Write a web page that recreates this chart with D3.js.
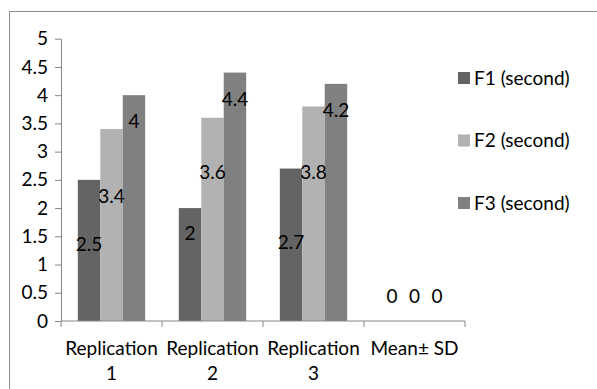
<!DOCTYPE html>
<html>
<head>
<meta charset="utf-8">
<script src="https://cdn.jsdelivr.net/npm/d3@7"></script>
<style>
  body { margin: 0; background: #fff; }
  text { font-family: Lato, sans-serif; font-size: 19px; fill: #000; }
</style>
</head>
<body>
<div id="bar-chart"></div>
<script>
// data
const categories = ["Replication 1", "Replication 2", "Replication 3", "Mean\u00b1 SD"];
const seriesNames = ["F1 (second)", "F2 (second)", "F3 (second)"];
const f1 = [2.5, 2, 2.7, 0];
const f2 = [3.4, 3.6, 3.8, 0];
const f3 = [4, 4.4, 4.2, 0];
// where each data label sits, in axis units (labels were placed by hand in the original)
const f1LabelAt = [1.35, 1.55, 1.4, 0.43];
const f2LabelAt = [2.2, 2.64, 2.64, 0.43];
const f3LabelAt = [3.53, 3.92, 3.73, 0.43];
const yTicks = [0, 0.5, 1, 1.5, 2, 2.5, 3, 3.5, 4, 4.5, 5];

const values = [f1, f2, f3];
const labelAt = [f1LabelAt, f2LabelAt, f3LabelAt];
const colors = ["#646464", "#b2b2b2", "#808080"];
const axisColor = "#868686";

// dimensions
const width = 597, height = 389;
const plot = { left: 61, right: 465, top: 38.7, bottom: 321 };

const svg = d3.select("#bar-chart")
  .append("svg")
    .attr("width", width)
    .attr("height", height);

// chart frame (runs off the bottom/right of the picture)
svg.append("rect")
  .attr("x", 9.5)
  .attr("y", 11.5)
  .attr("width", 620)
  .attr("height", 420)
  .attr("fill", "none")
  .attr("stroke", "#8c8c8c");

// scales
const x = d3.scaleBand()
  .domain(categories)
  .range([plot.left, plot.right]);

// gap width 150% -> group takes 2/3 of the band
const x1 = d3.scaleBand()
  .domain(d3.range(seriesNames.length))
  .range([x.bandwidth() / 6, x.bandwidth() * 5 / 6]);

const y = d3.scaleLinear()
  .domain([0, 5])
  .range([plot.bottom, plot.top]);

// bars
const groups = svg.append("g")
  .selectAll("g")
  .data(categories)
  .join("g")
    .attr("transform", d => "translate(" + x(d) + ",0)");

groups.selectAll("rect")
  .data((c, i) => values.map((s, k) => ({ k: k, v: s[i] })))
  .join("rect")
    .attr("x", d => x1(d.k))
    .attr("y", d => y(d.v))
    .attr("width", x1.bandwidth())
    .attr("height", d => y(0) - y(d.v))
    .attr("fill", d => colors[d.k]);

// data labels
groups.selectAll("text")
  .data((c, i) => values.map((s, k) => ({ k: k, v: s[i], at: labelAt[k][i] })))
  .join("text")
    .attr("x", d => x1(d.k) + x1.bandwidth() / 2)
    .attr("y", d => y(d.at))
    .attr("dy", "0.35em")
    .attr("text-anchor", "middle")
    .text(d => d.v);

// y axis
const yAxis = svg.append("g")
  .attr("transform", "translate(" + plot.left + ",0)")
  .call(d3.axisLeft(y).tickValues(yTicks).tickFormat(d => String(d)).tickSize(6).tickPadding(7).tickSizeOuter(0));

// x axis: line plus ticks on the band edges
const xAxis = svg.append("g")
  .attr("transform", "translate(0," + plot.bottom + ")");

xAxis.append("line")
  .attr("x1", plot.left)
  .attr("x2", plot.right)
  .attr("stroke", axisColor);

xAxis.selectAll("line.edge")
  .data(categories.map(c => x(c)).concat([x(categories[categories.length - 1]) + x.bandwidth()]))
  .join("line")
    .attr("class", "edge")
    .attr("x1", d => d)
    .attr("x2", d => d)
    .attr("y2", 6)
    .attr("stroke", axisColor);

// category labels, wrapped when wider than the band
xAxis.selectAll("text")
  .data(categories)
  .join("text")
    .attr("text-anchor", "middle")
    .attr("y", 34)
    .each(function(d) {
      const t = d3.select(this);
      const cx = x(d) + x.bandwidth() / 2;
      t.append("tspan").attr("x", cx).text(d);
      if (this.getComputedTextLength() > x.bandwidth()) {
        const cut = d.lastIndexOf(" ");
        t.text(null);
        t.append("tspan").attr("x", cx).text(d.slice(0, cut));
        t.append("tspan").attr("x", cx).attr("dy", 25).text(d.slice(cut + 1));
      }
    });

yAxis.select(".domain").attr("stroke", axisColor);
yAxis.selectAll(".tick line").attr("stroke", axisColor);
yAxis.selectAll(".tick text").style("font-size", "19px").style("font-family", "Lato, sans-serif").attr("fill", "#000");

// legend
const legend = svg.append("g")
  .selectAll("g")
  .data(seriesNames)
  .join("g")
    .attr("transform", (d, i) => "translate(458," + (78 + i * 62.5) + ")");

legend.append("rect")
  .attr("x", 0)
  .attr("y", -6)
  .attr("width", 12)
  .attr("height", 12)
  .attr("fill", (d, i) => colors[i]);

legend.append("text")
  .attr("x", 16)
  .attr("dy", "0.35em")
  .text(d => d);
</script>
</body>
</html>
